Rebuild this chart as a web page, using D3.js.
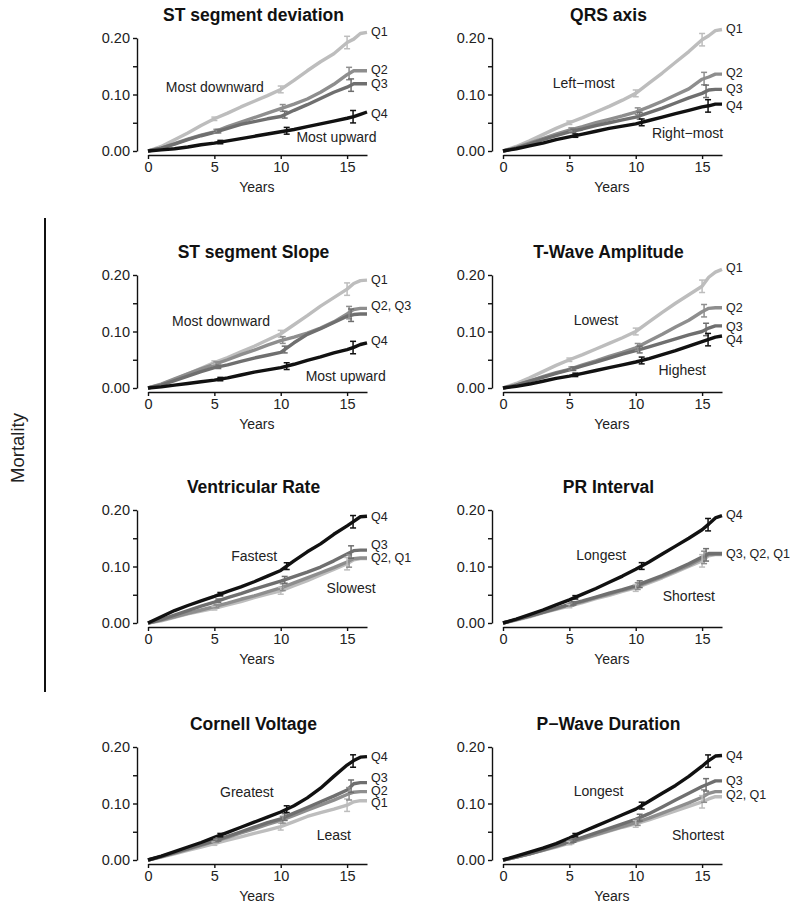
<!DOCTYPE html>
<html>
<head>
<meta charset="utf-8">
<script src="https://cdn.jsdelivr.net/npm/d3@7"></script>
<style>
  body { margin: 0; background: #fff; }
  svg { display: block; font-family: "Liberation Sans", Arial, sans-serif; }
</style>
</head>
<body>
<svg id="chart" width="800" height="907"></svg>
<script>
// ---------- DATA ----------
const years = [0,1,2,3,4,5,6,7,8,9,10,11,12,13,14,15,15.5,16,16.5];
const quartiles = ["Q1","Q2","Q3","Q4"];
const qColors = ["#bdbdbd","#8e8e8e","#6f6f6f","#111111"];
const errYears = [5,10,15];
const errOffset = [0,0.15,0.3,0.45];
const errHalf = [0.003,0.006,0.011];
const yTicks = [0,0.05,0.10,0.15,0.20];
const yTickLabels = [0,0.10,0.20];
const xTicks = [0,5,10,15];

const titles = ["ST segment deviation","QRS axis","ST segment Slope","T-Wave Amplitude",
                "Ventricular Rate","PR Interval","Cornell Voltage","P\u2212Wave Duration"];

const stDev = [
  [0,.008,.02,.032,.045,.057,.067,.078,.088,.098,.109,.125,.142,.158,.172,.192,.198,.208,.21],
  [0,.005,.013,.021,.028,.034,.043,.051,.059,.067,.075,.083,.092,.104,.118,.135,.142,.142,.142],
  [0,.005,.012,.02,.027,.033,.04,.047,.052,.057,.061,.072,.082,.093,.104,.113,.119,.119,.119],
  [0,.002,.004,.007,.011,.014,.018,.022,.026,.03,.034,.038,.043,.048,.053,.058,.061,.065,.069]
];
const qrs = [
  [0,.008,.018,.029,.04,.05,.059,.069,.079,.09,.102,.12,.138,.157,.176,.197,.204,.213,.215],
  [0,.006,.014,.022,.03,.037,.043,.05,.056,.062,.069,.078,.088,.099,.11,.127,.131,.136,.136],
  [0,.005,.012,.02,.027,.034,.039,.045,.05,.055,.06,.068,.076,.085,.094,.102,.108,.109,.109],
  [0,.004,.009,.014,.02,.025,.03,.035,.04,.044,.048,.054,.06,.066,.072,.078,.08,.083,.083]
];
const stSlope = [
  [0,.006,.015,.025,.035,.045,.054,.064,.074,.085,.096,.112,.128,.145,.16,.175,.185,.19,.191],
  [0,.007,.016,.025,.034,.042,.05,.059,.067,.076,.084,.09,.097,.106,.117,.131,.139,.141,.141],
  [0,.005,.013,.021,.029,.036,.041,.047,.053,.058,.063,.08,.095,.105,.116,.127,.13,.131,.131],
  [0,.002,.005,.008,.011,.014,.018,.023,.028,.032,.036,.042,.049,.055,.062,.068,.072,.077,.08]
];
const tWave = [
  [0,.008,.018,.029,.04,.05,.059,.069,.079,.089,.1,.117,.134,.15,.165,.18,.196,.205,.21],
  [0,.005,.012,.02,.027,.033,.041,.048,.056,.063,.071,.083,.095,.108,.12,.135,.141,.142,.142],
  [0,.005,.012,.019,.026,.032,.039,.046,.053,.06,.066,.073,.08,.087,.094,.1,.106,.11,.11],
  [0,.003,.007,.012,.017,.021,.026,.031,.036,.041,.046,.052,.059,.066,.074,.082,.086,.09,.092]
];
const ventRate = [
  [0,.004,.01,.016,.021,.026,.032,.038,.045,.051,.057,.066,.075,.085,.095,.105,.112,.114,.114],
  [0,.005,.011,.017,.023,.029,.035,.042,.048,.055,.062,.071,.08,.089,.098,.108,.114,.115,.115],
  [0,.006,.014,.022,.03,.037,.045,.052,.06,.067,.074,.082,.09,.099,.11,.122,.128,.129,.129],
  [0,.011,.022,.031,.039,.047,.056,.064,.073,.083,.093,.11,.126,.14,.157,.172,.18,.188,.189]
];
const prInt = [
  [0,.005,.011,.018,.024,.03,.036,.043,.049,.056,.062,.071,.08,.09,.1,.11,.119,.121,.121],
  [0,.006,.012,.019,.025,.032,.038,.045,.051,.058,.064,.073,.082,.092,.102,.114,.121,.122,.122],
  [0,.006,.012,.019,.026,.033,.039,.046,.053,.059,.066,.075,.084,.094,.105,.117,.123,.123,.123],
  [0,.007,.015,.023,.032,.041,.051,.061,.072,.083,.095,.108,.122,.136,.15,.165,.175,.186,.19]
];
const cornell = [
  [0,.005,.011,.017,.023,.029,.035,.041,.047,.053,.059,.068,.077,.084,.09,.097,.103,.105,.105],
  [0,.006,.012,.019,.026,.033,.04,.048,.055,.063,.07,.079,.088,.097,.106,.116,.12,.121,.121],
  [0,.006,.013,.02,.027,.034,.042,.05,.058,.066,.073,.083,.093,.103,.113,.124,.135,.137,.137],
  [0,.007,.015,.023,.031,.04,.049,.058,.067,.076,.085,.096,.11,.127,.148,.168,.176,.182,.183]
];
const pWave = [
  [0,.005,.011,.017,.023,.03,.037,.044,.051,.058,.064,.071,.079,.087,.095,.103,.108,.112,.112],
  [0,.005,.011,.017,.024,.031,.038,.045,.052,.059,.066,.074,.083,.092,.101,.111,.118,.121,.121],
  [0,.005,.011,.018,.025,.032,.04,.048,.056,.064,.072,.082,.094,.106,.118,.13,.135,.14,.14],
  [0,.007,.014,.021,.029,.039,.05,.06,.07,.08,.09,.104,.118,.132,.148,.166,.176,.184,.185]
];
const seriesByPanel = [stDev, qrs, stSlope, tWave, ventRate, prInt, cornell, pWave];

const qLabelsByPanel = [
  [["Q1",.212],["Q2",.144],["Q3",.119],["Q4",.066]],
  [["Q1",.216],["Q2",.139],["Q3",.111],["Q4",.081]],
  [["Q1",.192],["Q2, Q3",.146],["Q4",.083]],
  [["Q1",.213],["Q2",.142],["Q3",.109],["Q4",.086]],
  [["Q4",.189],["Q3",.139],["Q2, Q1",.116]],
  [["Q4",.191],["Q3, Q2, Q1",.123]],
  [["Q4",.183],["Q3",.145],["Q2",.123],["Q1",.101]],
  [["Q4",.184],["Q3",.141],["Q2, Q1",.115]]
];
const notesByPanel = [
  [["Most downward",5.04,.113],["Most upward",14.2,.025]],
  [["Left\u2212most",6.08,.12],["Right\u2212most",13.9,.032]],
  [["Most downward",5.5,.118],["Most upward",14.9,.021]],
  [["Lowest",7.0,.12],["Highest",13.5,.032]],
  [["Fastest",8.0,.118],["Slowest",15.3,.061]],
  [["Longest",7.4,.121],["Shortest",14.0,.047]],
  [["Greatest",7.45,.12],["Least",14.0,.044]],
  [["Longest",7.2,.122],["Shortest",14.7,.044]]
];
const yLabel = "Mortality";

// ---------- LAYOUT ----------
const colX0 = [148, 503];
const plotW = 219;
const rowTop = [38, 275, 510, 747];
const plotH = 113;

const svg = d3.select("#chart");

function interp(xs, ys, x) {
  const i = d3.bisectRight(xs, x) - 1;
  if (i >= xs.length - 1) return ys[ys.length - 1];
  const t = (x - xs[i]) / (xs[i + 1] - xs[i]);
  return ys[i] + t * (ys[i + 1] - ys[i]);
}

seriesByPanel.forEach((series, p) => {
  const col = p % 2, row = Math.floor(p / 2);
  const x = d3.scaleLinear().domain([0, 16.5]).range([colX0[col], colX0[col] + plotW]);
  const y = d3.scaleLinear().domain([0, 0.2]).range([rowTop[row] + plotH, rowTop[row]]);
  const g = svg.append("g");

  g.append("text")
    .attr("x", (colX0[col] + plotW / 2) - 4)
    .attr("y", rowTop[row] - 17)
    .attr("text-anchor", "middle")
    .attr("font-size", 17.5).attr("font-weight", "bold").attr("fill", "#111")
    .text(titles[p]);

  const ya = d3.axisLeft(y).tickValues(yTicks).tickSize(4).tickSizeOuter(0).tickPadding(3)
    .tickFormat(d => yTickLabels.some(v => Math.abs(v - d) < 1e-9) ? d3.format(".2f")(d) : "");
  const yg = g.append("g").attr("transform", `translate(${colX0[col] - 11},0)`).call(ya);
  yg.selectAll("text").attr("font-size", 14.5).attr("fill", "#222").attr("font-family", "Liberation Sans, Arial, sans-serif");
  yg.selectAll("path,line").attr("stroke", "#111").attr("stroke-width", 1.4);

  const xa = d3.axisBottom(x).tickValues(xTicks).tickSize(4).tickSizeOuter(0).tickPadding(3)
    .tickFormat(d3.format("d"));
  const xg = g.append("g").attr("transform", `translate(0,${rowTop[row] + plotH + 4})`).call(xa);
  xg.selectAll("text").attr("font-size", 14.5).attr("fill", "#222").attr("font-family", "Liberation Sans, Arial, sans-serif");
  xg.selectAll("path,line").attr("stroke", "#111").attr("stroke-width", 1.4);

  g.append("text")
    .attr("x", x(8.2)).attr("y", rowTop[row] + plotH + 41)
    .attr("text-anchor", "middle").attr("font-size", 14).attr("fill", "#222")
    .text("Years");

  const line = d3.line().x((d, i) => x(years[i])).y(d => y(d)).curve(d3.curveLinear);
  series.forEach((vals, q) => {
    g.append("path").datum(vals)
      .attr("d", line).attr("fill", "none")
      .attr("stroke", qColors[q]).attr("stroke-width", 3.4)
      .attr("stroke-linejoin", "round");
  });

  series.forEach((vals, q) => {
    errYears.forEach((ey, k) => {
      const ex = ey + errOffset[q];
      const v = interp(years, vals, ex);
      const eg = g.append("g").attr("stroke", qColors[q]).attr("stroke-width", 1.5);
      eg.append("line").attr("x1", x(ex)).attr("x2", x(ex)).attr("y1", y(v - errHalf[k])).attr("y2", y(v + errHalf[k]));
      eg.append("line").attr("x1", x(ex) - 3).attr("x2", x(ex) + 3).attr("y1", y(v - errHalf[k])).attr("y2", y(v - errHalf[k]));
      eg.append("line").attr("x1", x(ex) - 3).attr("x2", x(ex) + 3).attr("y1", y(v + errHalf[k])).attr("y2", y(v + errHalf[k]));
    });
  });

  qLabelsByPanel[p].forEach(([t, v]) => {
    g.append("text").attr("x", x(16.5) + 4).attr("y", y(v)).attr("dy", "0.35em")
      .attr("font-size", 12.5).attr("fill", "#222").text(t);
  });

  notesByPanel[p].forEach(([t, xv, yv]) => {
    g.append("text").attr("x", x(xv)).attr("y", y(yv)).attr("dy", "0.35em")
      .attr("text-anchor", "middle").attr("font-size", 14).attr("fill", "#222").text(t);
  });
});

svg.append("line").attr("x1", 45).attr("x2", 45).attr("y1", 218).attr("y2", 692)
  .attr("stroke", "#111").attr("stroke-width", 2);
svg.append("text")
  .attr("transform", "translate(24,448) rotate(-90)")
  .attr("text-anchor", "middle").attr("font-size", 18.5).attr("fill", "#222")
  .text(yLabel);
</script>
</body>
</html>
